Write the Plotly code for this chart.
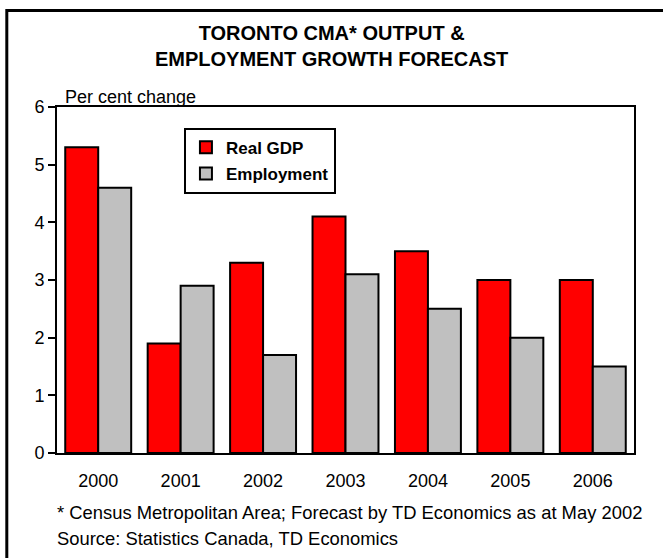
import plotly.graph_objects as go

years = ["2000", "2001", "2002", "2003", "2004", "2005", "2006"]
real_gdp = [5.3, 1.9, 3.3, 4.1, 3.5, 3.0, 3.0]
employment = [4.6, 2.9, 1.7, 3.1, 2.5, 2.0, 1.5]
y_ticks = [0, 1, 2, 3, 4, 5, 6]

FONT = "Liberation Sans, Arial, sans-serif"

fig = go.Figure()
fig.add_trace(go.Bar(
    x=years, y=real_gdp, name="<b>Real GDP</b>", legendgroup="gdp",
    marker=dict(color="#ff0000", line=dict(color="black", width=2)),
))
fig.add_trace(go.Bar(
    x=years, y=employment, name="<b>Employment</b>", legendgroup="emp",
    marker=dict(color="#c0c0c0", line=dict(color="black", width=2)),
))

fig.update_layout(
    width=663, height=558,
    margin=dict(l=57, r=29, t=107, b=105),
    paper_bgcolor="white", plot_bgcolor="white",
    font=dict(family=FONT, size=18, color="black"),
    barmode="group", bargap=0.2, bargroupgap=0,
    showlegend=True,
    legend=dict(
        x=0.22, y=0.94, xanchor="left", yanchor="top",
        bgcolor="white", bordercolor="black", borderwidth=2,
        font=dict(family=FONT, size=17, color="black"),
        traceorder="grouped", tracegroupgap=1, itemwidth=30,
    ),
    xaxis=dict(
        showline=True, linecolor="black", linewidth=2, mirror=True,
        ticks="", tickfont=dict(size=18), ticklabelstandoff=10,
    ),
    yaxis=dict(
        range=[0, 6], tickvals=y_ticks,
        showline=True, linecolor="black", linewidth=2, mirror=True,
        ticks="outside", ticklen=7, tickwidth=2, tickcolor="black",
        showgrid=False, zeroline=False, tickfont=dict(size=18),
    ),
    title=dict(
        text="<b>TORONTO CMA* OUTPUT &<br>EMPLOYMENT GROWTH FORECAST</b>",
        x=0.476, xref="paper", xanchor="center",
        y=0.929, yanchor="middle",
        font=dict(family=FONT, size=20, color="black"),
    ),
)

# outer frame
fig.add_shape(type="rect", xref="paper", yref="paper",
              x0=-0.087, x1=1.1, y0=-0.5, y1=1.279,
              line=dict(color="black", width=3))

fig.add_annotation(text="Per cent change", xref="paper", yref="paper",
                   x=0.010, y=0.995, xanchor="left", yanchor="bottom",
                   showarrow=False, font=dict(size=18))
fig.add_annotation(
    text="* Census Metropolitan Area; Forecast by TD Economics as at May 2002",
    xref="paper", yref="paper", x=-0.003, y=-0.173, xanchor="left", yanchor="middle",
    showarrow=False, font=dict(size=18.4))
fig.add_annotation(
    text="Source: Statistics Canada, TD Economics",
    xref="paper", yref="paper", x=-0.003, y=-0.246, xanchor="left", yanchor="middle",
    showarrow=False, font=dict(size=18.4))

fig.write_html("out.html")
